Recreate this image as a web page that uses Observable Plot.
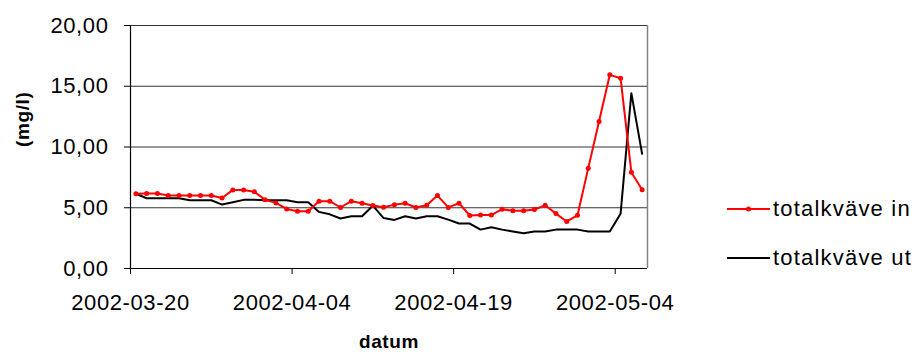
<!DOCTYPE html>
<html><head><meta charset="utf-8">
<script src="https://cdn.jsdelivr.net/npm/d3@7"></script>
<script src="https://cdn.jsdelivr.net/npm/@observablehq/plot@0.6"></script>
<style>
body{margin:0;background:#fff;}
#wrap{position:relative;width:917px;height:352px;font-family:"Liberation Sans",Arial,sans-serif;overflow:hidden;}
.leg{position:absolute;left:727px;height:30px;display:flex;align-items:center;font-size:22px;letter-spacing:1.2px;color:#000;white-space:nowrap;}
.leg svg{display:block;margin-right:3px;}
#wrap svg text{letter-spacing:0.6px;}
</style></head><body><div id="wrap"></div>
<script>
const dates = [
  "2002-03-20","2002-03-21","2002-03-22","2002-03-23","2002-03-24","2002-03-25","2002-03-26","2002-03-27",
  "2002-03-28","2002-03-29","2002-03-30","2002-03-31","2002-04-01","2002-04-02","2002-04-03","2002-04-04",
  "2002-04-05","2002-04-06","2002-04-07","2002-04-08","2002-04-09","2002-04-10","2002-04-11","2002-04-12",
  "2002-04-13","2002-04-14","2002-04-15","2002-04-16","2002-04-17","2002-04-18","2002-04-19","2002-04-20",
  "2002-04-21","2002-04-22","2002-04-23","2002-04-24","2002-04-25","2002-04-26","2002-04-27","2002-04-28",
  "2002-04-29","2002-04-30","2002-05-01","2002-05-02","2002-05-03","2002-05-04","2002-05-05","2002-05-06"
];
const totalkvaveIn = [
  6.15, 6.17, 6.17, 6.0, 6.0, 6.0, 6.0, 6.0,
  5.8, 6.47, 6.47, 6.32, 5.65, 5.4, 4.9, 4.72,
  4.72, 5.54, 5.54, 5.02, 5.54, 5.37, 5.18, 5.05,
  5.24, 5.37, 5.02, 5.2, 6.0, 5.03, 5.37, 4.36,
  4.4, 4.4, 4.88, 4.75, 4.75, 4.86, 5.2, 4.52,
  3.87, 4.38, 8.26, 12.1, 15.94, 15.66, 7.93, 6.48
];
const totalkvaveUt = [
  6.15, 5.78, 5.78, 5.78, 5.78, 5.62, 5.62, 5.62,
  5.26, 5.45, 5.65, 5.65, 5.62, 5.62, 5.62, 5.45,
  5.45, 4.66, 4.46, 4.12, 4.3, 4.3, 5.17, 4.15,
  4.0, 4.3, 4.12, 4.3, 4.3, 4.02, 3.7, 3.7,
  3.2, 3.4, 3.2, 3.05, 2.9, 3.05, 3.05, 3.2,
  3.2, 3.2, 3.05, 3.05, 3.05, 4.5, 14.43, 9.44
];
const yTicks = [0, 5, 10, 15, 20];
const xTicks = ["2002-03-20", "2002-04-04", "2002-04-19", "2002-05-04"];
const xDomain = ["2002-03-20", "2002-05-07"];
const seriesNames = ["totalkväve in", "totalkväve ut"];
const seriesColors = ["#ff0000", "#000000"];
const yLabel = "(mg/l)";
const xLabel = "datum";

const halfDay = 12 * 3600 * 1000;
const rows = dates.map((d, i) => ({
  date: new Date(+new Date(d + "T00:00Z") + halfDay),
  vin: totalkvaveIn[i],
  vut: totalkvaveUt[i]
}));
const xd = xDomain.map(d => new Date(d + "T00:00Z"));

const plot = Plot.plot({
  width: 917, height: 352,
  marginLeft: 130, marginRight: 270, marginTop: 25, marginBottom: 84,
  style: {fontFamily: "'Liberation Sans', Arial, sans-serif", fontSize: "22px", color: "#000", background: "#fff", overflow: "visible"},
  x: {type: "utc", domain: xd, ticks: xTicks.map(d => new Date(d + "T00:00Z")), tickFormat: d3.utcFormat("%Y-%m-%d"), tickSize: 6, tickPadding: 20, label: null},
  y: {domain: [0, 20], ticks: yTicks, tickFormat: d => d.toFixed(2).replace(".", ","), tickSize: 6, tickPadding: 16, label: null},
  marks: [
    Plot.ruleY(yTicks.slice(1), {stroke: "#333", strokeWidth: 1}),
    Plot.ruleX([xd[1]], {stroke: "#808080", strokeWidth: 1.5}),
    Plot.ruleY([0], {stroke: "#000", strokeWidth: 1.2}),
    Plot.ruleX([xd[0]], {stroke: "#000", strokeWidth: 1.2}),
    Plot.line(rows, {x: "date", y: "vut", stroke: seriesColors[1], strokeWidth: 2}),
    Plot.line(rows, {x: "date", y: "vin", stroke: seriesColors[0], strokeWidth: 2}),
    Plot.dot(rows, {x: "date", y: "vin", fill: seriesColors[0], r: 2.5}),
    Plot.text([yLabel], {frameAnchor: "left", dx: -108, rotate: -90, fontWeight: "bold", fontSize: 19}),
    Plot.text([xLabel], {frameAnchor: "bottom", dy: 79, fontWeight: "bold", fontSize: 19})
  ]
});
const wrap = document.getElementById("wrap");
wrap.appendChild(plot);

const legTops = [194, 243];
seriesNames.forEach((name, i) => {
  const div = document.createElement("div");
  div.className = "leg";
  div.style.top = legTops[i] + "px";
  const marker = i === 0 ? `<circle cx="21.5" cy="15" r="2.5" fill="${seriesColors[i]}"/>` : "";
  div.innerHTML = `<svg width="43" height="30"><line x1="0" x2="43" y1="15" y2="15" stroke="${seriesColors[i]}" stroke-width="2"/>${marker}</svg><span>${name}</span>`;
  wrap.appendChild(div);
});
</script></body></html>
